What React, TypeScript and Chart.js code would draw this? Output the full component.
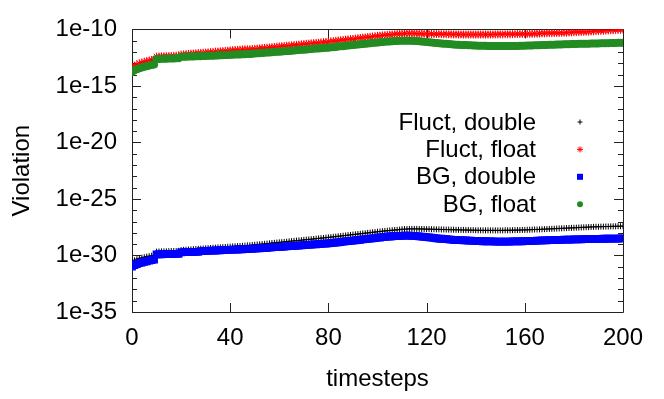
import React, { useEffect, useRef } from 'react';
import { Chart, registerables } from 'chart.js';

Chart.register(...registerables);

// x values: timesteps 0..200
const timesteps: number[] = Array.from({ length: 201 }, (_, i) => i);

// Values are given as base-10 exponents (value = 10^exp)
const fluctDoubleExp: number[] = [
  -30.55, -30.42, -30.33, -30.26, -30.20, -30.15, -30.10, -30.06, -30.02, -29.98,
  -29.66, -29.65, -29.64, -29.64, -29.63, -29.62, -29.61, -29.61, -29.60, -29.59,
  -29.52, -29.50, -29.49, -29.47, -29.46, -29.44, -29.43, -29.41, -29.40, -29.38,
  -29.37, -29.35, -29.34, -29.32, -29.31, -29.29, -29.28, -29.26, -29.25, -29.23,
  -29.22, -29.20, -29.19, -29.17, -29.16, -29.14, -29.13, -29.11, -29.10, -29.08,
  -29.05, -29.03, -29.01, -28.99, -28.97, -28.95, -28.93, -28.90, -28.88, -28.86,
  -28.84, -28.82, -28.80, -28.78, -28.75, -28.73, -28.71, -28.69, -28.67, -28.65,
  -28.62, -28.60, -28.58, -28.56, -28.54, -28.51, -28.49, -28.47, -28.45, -28.42,
  -28.40, -28.38, -28.35, -28.33, -28.30, -28.28, -28.25, -28.23, -28.20, -28.18,
  -28.15, -28.13, -28.10, -28.08, -28.05, -28.03, -28.00, -27.98, -27.95, -27.93,
  -27.90, -27.88, -27.85, -27.83, -27.81, -27.79, -27.77, -27.75, -27.73, -27.71,
  -27.68, -27.67, -27.66, -27.65, -27.65, -27.65, -27.65, -27.65, -27.66, -27.66,
  -27.67, -27.67, -27.68, -27.68, -27.69, -27.69, -27.70, -27.70, -27.71, -27.71,
  -27.72, -27.72, -27.73, -27.73, -27.74, -27.74, -27.75, -27.75, -27.76, -27.76,
  -27.77, -27.77, -27.77, -27.78, -27.78, -27.78, -27.78, -27.78, -27.78, -27.78,
  -27.78, -27.78, -27.77, -27.77, -27.77, -27.76, -27.76, -27.75, -27.75, -27.74,
  -27.74, -27.73, -27.72, -27.71, -27.70, -27.70, -27.69, -27.68, -27.67, -27.66,
  -27.65, -27.64, -27.63, -27.62, -27.61, -27.60, -27.59, -27.58, -27.57, -27.56,
  -27.55, -27.54, -27.53, -27.52, -27.51, -27.50, -27.49, -27.48, -27.47, -27.46,
  -27.46, -27.45, -27.45, -27.44, -27.44, -27.43, -27.42, -27.42, -27.41, -27.41,
  -27.40,
];

const fluctFloatExp: number[] = [
  -13.38, -13.22, -13.10, -13.00, -12.93, -12.86, -12.80, -12.75, -12.70, -12.66,
  -12.41, -12.40, -12.39, -12.38, -12.37, -12.36, -12.35, -12.34, -12.33, -12.32,
  -12.22, -12.21, -12.19, -12.17, -12.15, -12.14, -12.12, -12.10, -12.08, -12.06,
  -12.05, -12.03, -12.01, -11.99, -11.97, -11.96, -11.94, -11.92, -11.90, -11.88,
  -11.86, -11.84, -11.82, -11.81, -11.79, -11.78, -11.77, -11.76, -11.76, -11.74,
  -11.72, -11.70, -11.68, -11.66, -11.64, -11.62, -11.60, -11.58, -11.55, -11.53,
  -11.51, -11.49, -11.47, -11.45, -11.43, -11.41, -11.39, -11.37, -11.35, -11.32,
  -11.30, -11.28, -11.26, -11.24, -11.22, -11.20, -11.18, -11.16, -11.13, -11.11,
  -11.09, -11.06, -11.04, -11.01, -10.99, -10.96, -10.94, -10.91, -10.89, -10.86,
  -10.84, -10.81, -10.79, -10.76, -10.73, -10.71, -10.68, -10.66, -10.63, -10.61,
  -10.58, -10.56, -10.53, -10.51, -10.49, -10.47, -10.45, -10.43, -10.41, -10.40,
  -10.38, -10.37, -10.36, -10.36, -10.36, -10.36, -10.37, -10.37, -10.38, -10.38,
  -10.39, -10.39, -10.40, -10.41, -10.41, -10.42, -10.42, -10.43, -10.43, -10.43,
  -10.44, -10.44, -10.44, -10.45, -10.45, -10.45, -10.45, -10.45, -10.45, -10.45,
  -10.45, -10.45, -10.45, -10.45, -10.45, -10.45, -10.45, -10.45, -10.44, -10.44,
  -10.44, -10.44, -10.43, -10.43, -10.43, -10.42, -10.42, -10.41, -10.41, -10.40,
  -10.40, -10.39, -10.39, -10.38, -10.37, -10.37, -10.36, -10.35, -10.35, -10.34,
  -10.33, -10.33, -10.32, -10.31, -10.31, -10.30, -10.29, -10.28, -10.27, -10.26,
  -10.25, -10.24, -10.23, -10.22, -10.21, -10.20, -10.19, -10.18, -10.17, -10.15,
  -10.14, -10.13, -10.12, -10.10, -10.09, -10.08, -10.07, -10.05, -10.04, -10.03,
  -10.02,
];

const bgDoubleExp: number[] = [
  -30.98, -30.85, -30.76, -30.68, -30.62, -30.56, -30.51, -30.46, -30.41, -30.36,
  -29.90, -29.89, -29.89, -29.88, -29.88, -29.87, -29.87, -29.86, -29.86, -29.85,
  -29.72, -29.71, -29.71, -29.70, -29.70, -29.69, -29.69, -29.68, -29.62, -29.61,
  -29.60, -29.59, -29.58, -29.57, -29.56, -29.55, -29.54, -29.53, -29.52, -29.51,
  -29.50, -29.49, -29.48, -29.47, -29.46, -29.45, -29.44, -29.43, -29.42, -29.41,
  -29.40, -29.38, -29.37, -29.35, -29.34, -29.32, -29.31, -29.29, -29.27, -29.26,
  -29.24, -29.23, -29.21, -29.20, -29.18, -29.17, -29.15, -29.13, -29.12, -29.10,
  -29.09, -29.07, -29.06, -29.04, -29.02, -29.01, -28.99, -28.98, -28.96, -28.95,
  -28.93, -28.91, -28.88, -28.86, -28.83, -28.81, -28.78, -28.76, -28.73, -28.71,
  -28.68, -28.66, -28.63, -28.61, -28.58, -28.56, -28.53, -28.51, -28.48, -28.46,
  -28.43, -28.41, -28.38, -28.36, -28.34, -28.32, -28.30, -28.29, -28.28, -28.27,
  -28.26, -28.25, -28.25, -28.25, -28.26, -28.27, -28.29, -28.31, -28.33, -28.35,
  -28.38, -28.40, -28.43, -28.45, -28.48, -28.50, -28.52, -28.54, -28.56, -28.58,
  -28.60, -28.61, -28.63, -28.64, -28.65, -28.66, -28.67, -28.68, -28.69, -28.70,
  -28.71, -28.72, -28.73, -28.74, -28.74, -28.75, -28.76, -28.76, -28.77, -28.77,
  -28.77, -28.77, -28.77, -28.77, -28.77, -28.76, -28.76, -28.75, -28.75, -28.74,
  -28.73, -28.72, -28.71, -28.70, -28.70, -28.69, -28.68, -28.67, -28.66, -28.66,
  -28.65, -28.64, -28.63, -28.63, -28.62, -28.61, -28.60, -28.60, -28.59, -28.59,
  -28.58, -28.58, -28.57, -28.57, -28.56, -28.56, -28.55, -28.55, -28.54, -28.54,
  -28.53, -28.53, -28.52, -28.52, -28.51, -28.51, -28.50, -28.50, -28.50, -28.49,
  -28.49,
];

const bgFloatExp: number[] = [
  -13.76, -13.62, -13.52, -13.44, -13.37, -13.31, -13.25, -13.20, -13.15, -13.10,
  -12.62, -12.61, -12.60, -12.60, -12.59, -12.58, -12.58, -12.57, -12.56, -12.56,
  -12.42, -12.41, -12.41, -12.40, -12.39, -12.39, -12.38, -12.37, -12.37, -12.36,
  -12.35, -12.34, -12.33, -12.32, -12.31, -12.30, -12.29, -12.28, -12.27, -12.26,
  -12.25, -12.24, -12.23, -12.22, -12.21, -12.20, -12.19, -12.18, -12.17, -12.16,
  -12.14, -12.12, -12.11, -12.09, -12.07, -12.05, -12.04, -12.02, -12.00, -11.98,
  -11.97, -11.95, -11.93, -11.91, -11.90, -11.88, -11.86, -11.84, -11.83, -11.81,
  -11.79, -11.77, -11.76, -11.74, -11.72, -11.70, -11.69, -11.67, -11.65, -11.63,
  -11.62, -11.59, -11.57, -11.55, -11.52, -11.50, -11.48, -11.45, -11.43, -11.41,
  -11.38, -11.36, -11.33, -11.31, -11.29, -11.26, -11.24, -11.22, -11.19, -11.17,
  -11.15, -11.13, -11.11, -11.09, -11.07, -11.06, -11.04, -11.03, -11.02, -11.01,
  -11.01, -11.00, -11.00, -11.00, -11.01, -11.02, -11.03, -11.05, -11.07, -11.09,
  -11.11, -11.13, -11.15, -11.17, -11.20, -11.22, -11.24, -11.26, -11.28, -11.30,
  -11.32, -11.33, -11.35, -11.36, -11.37, -11.38, -11.39, -11.40, -11.41, -11.42,
  -11.43, -11.44, -11.44, -11.45, -11.45, -11.46, -11.46, -11.46, -11.47, -11.47,
  -11.47, -11.47, -11.47, -11.47, -11.47, -11.46, -11.46, -11.46, -11.45, -11.45,
  -11.44, -11.43, -11.43, -11.42, -11.41, -11.40, -11.40, -11.39, -11.38, -11.37,
  -11.36, -11.36, -11.35, -11.34, -11.33, -11.33, -11.32, -11.31, -11.31, -11.30,
  -11.29, -11.29, -11.28, -11.28, -11.27, -11.26, -11.26, -11.25, -11.25, -11.24,
  -11.24, -11.23, -11.23, -11.22, -11.22, -11.21, -11.20, -11.20, -11.19, -11.19,
  -11.18,
];

const seriesNames: string[] = ['Fluct, double', 'Fluct, float', 'BG, double', 'BG, float'];
const seriesColors: string[] = ['#000000', '#ff0000', '#0000ff', '#228b22'];

const xTicks: number[] = [0, 40, 80, 120, 160, 200];
const yDecades: number[] = [-35, -34, -33, -32, -31, -30, -29, -28, -27, -26, -25, -24, -23, -22, -21, -20, -19, -18, -17, -16, -15, -14, -13, -12, -11, -10];
const yLabelDecades: number[] = [-35, -30, -25, -20, -15, -10];

const FONT = '"Liberation Sans", Arial, sans-serif';
const FSIZE = 24;

const toPoints = (exps: number[]) => exps.map((e, i) => ({ x: timesteps[i], y: Math.pow(10, e) }));

const framePlugin = {
  id: 'gnuFrame',
  beforeDatasetsDraw(chart: any) {
    const { ctx, chartArea: a, scales } = chart;
    const xs = scales.x;
    const ys = scales.y;
    ctx.save();
    ctx.strokeStyle = '#222';
    ctx.lineWidth = 1;
    ctx.beginPath();
    // y ticks (inward, mirrored)
    yDecades.forEach((e) => {
      const py = Math.round(ys.getPixelForValue(Math.pow(10, e))) + 0.5;
      const len = e % 5 === 0 ? 9 : 5;
      ctx.moveTo(a.left, py);
      ctx.lineTo(a.left + len, py);
      ctx.moveTo(a.right, py);
      ctx.lineTo(a.right - len, py);
    });
    xTicks.forEach((t) => {
      const px = Math.round(xs.getPixelForValue(t)) + 0.5;
      ctx.moveTo(px, a.bottom);
      ctx.lineTo(px, a.bottom - 9);
      ctx.moveTo(px, a.top);
      ctx.lineTo(px, a.top + 9);
    });
    ctx.stroke();
    ctx.beginPath();
    ctx.rect(Math.round(a.left) + 0.5, Math.round(a.top) + 0.5, Math.round(a.right - a.left), Math.round(a.bottom - a.top));
    ctx.stroke();
    ctx.restore();
  },
  afterDraw(chart: any) {
    const { ctx } = chart;
    ctx.save();
    ctx.font = `${FSIZE}px ${FONT}`;
    ctx.textAlign = 'right';
    ctx.textBaseline = 'middle';
    ctx.fillStyle = '#000';
    const textRight = 536;
    const markX = 580;
    const y0 = 122;
    const dy = 27.4;
    seriesNames.forEach((name, i) => {
      const y = y0 + i * dy;
      ctx.fillStyle = '#000';
      ctx.fillText(name, textRight, y + 1);
      ctx.strokeStyle = seriesColors[i];
      ctx.fillStyle = seriesColors[i];
      ctx.lineWidth = 1;
      if (i === 0) {
        ctx.beginPath();
        ctx.moveTo(markX - 2.5, y); ctx.lineTo(markX + 2.5, y);
        ctx.moveTo(markX, y - 2.5); ctx.lineTo(markX, y + 2.5);
        ctx.stroke();
      } else if (i === 1) {
        const r = 3;
        const d = r * Math.SQRT1_2;
        ctx.beginPath();
        ctx.moveTo(markX - r, y); ctx.lineTo(markX + r, y);
        ctx.moveTo(markX, y - r); ctx.lineTo(markX, y + r);
        ctx.moveTo(markX - d, y - d); ctx.lineTo(markX + d, y + d);
        ctx.moveTo(markX - d, y + d); ctx.lineTo(markX + d, y - d);
        ctx.stroke();
      } else if (i === 2) {
        ctx.fillRect(markX - 3, y - 3, 6, 6);
      } else {
        ctx.beginPath();
        ctx.arc(markX, y, 3, 0, Math.PI * 2);
        ctx.fill();
      }
    });
    ctx.restore();
  },
};

export default function App() {
  const canvasRef = useRef<HTMLCanvasElement | null>(null);

  useEffect(() => {
    document.body.style.margin = '0';
    const canvas = canvasRef.current;
    if (!canvas) return;
    const chart = new Chart(canvas, {
      type: 'scatter',
      data: {
        datasets: [
          {
            label: seriesNames[3],
            data: toPoints(bgFloatExp),
            pointStyle: 'circle',
            pointRadius: 4,
            pointBorderWidth: 0,
            backgroundColor: seriesColors[3],
            borderColor: seriesColors[3],
            showLine: false,
          },
          {
            label: seriesNames[2],
            data: toPoints(bgDoubleExp),
            pointStyle: 'rect',
            pointRadius: 5.5,
            pointBorderWidth: 0,
            backgroundColor: seriesColors[2],
            borderColor: seriesColors[2],
            showLine: false,
          },
          {
            label: seriesNames[1],
            data: toPoints(fluctFloatExp),
            pointStyle: 'star',
            pointRadius: 4,
            pointBorderWidth: 1,
            backgroundColor: seriesColors[1],
            borderColor: seriesColors[1],
            showLine: false,
          },
          {
            label: seriesNames[0],
            data: toPoints(fluctDoubleExp),
            pointStyle: 'cross',
            pointRadius: 3,
            pointBorderWidth: 1,
            backgroundColor: seriesColors[0],
            borderColor: seriesColors[0],
            showLine: false,
          },
        ],
      },
      options: {
        animation: false,
        responsive: false,
        devicePixelRatio: 1,
        layout: { padding: { top: 28, right: 41, left: 0, bottom: 0 } },
        plugins: {
          legend: { display: false },
          tooltip: { enabled: false },
        },
        scales: {
          x: {
            type: 'linear',
            min: 0,
            max: 200,
            afterBuildTicks: (scale: any) => {
              scale.ticks = xTicks.map((v) => ({ value: v }));
            },
            afterFit: (scale: any) => {
              scale.height = 87;
            },
            grid: { display: false, drawTicks: false },
            border: { display: false },
            ticks: {
              autoSkip: false,
              maxRotation: 0,
              padding: 12,
              color: '#000',
              font: { family: FONT, size: FSIZE },
              callback: (v: any) => String(v),
            },
            title: {
              display: true,
              text: 'timesteps',
              color: '#000',
              font: { family: FONT, size: FSIZE },
              padding: { top: 0, bottom: 5 },
            },
          },
          y: {
            type: 'logarithmic',
            min: 1e-35,
            max: 1e-10,
            afterBuildTicks: (scale: any) => {
              scale.ticks = yLabelDecades.map((e) => ({ value: Math.pow(10, e) }));
            },
            afterFit: (scale: any) => {
              scale.width = 132;
            },
            grid: { display: false, drawTicks: false },
            border: { display: false },
            ticks: {
              autoSkip: false,
              padding: 15,
              color: '#000',
              font: { family: FONT, size: FSIZE },
              callback: (v: any) => '1e' + Math.round(Math.log10(Number(v))),
            },
            title: {
              display: true,
              text: 'Violation',
              color: '#000',
              font: { family: FONT, size: FSIZE },
              padding: { top: 8, bottom: 0 },
            },
          },
        },
      },
      plugins: [framePlugin],
    } as any);
    return () => chart.destroy();
  }, []);

  return (
    <div style={{ width: 664, height: 399 }}>
      <canvas ref={canvasRef} width={664} height={399} style={{ display: 'block' }} />
    </div>
  );
}
